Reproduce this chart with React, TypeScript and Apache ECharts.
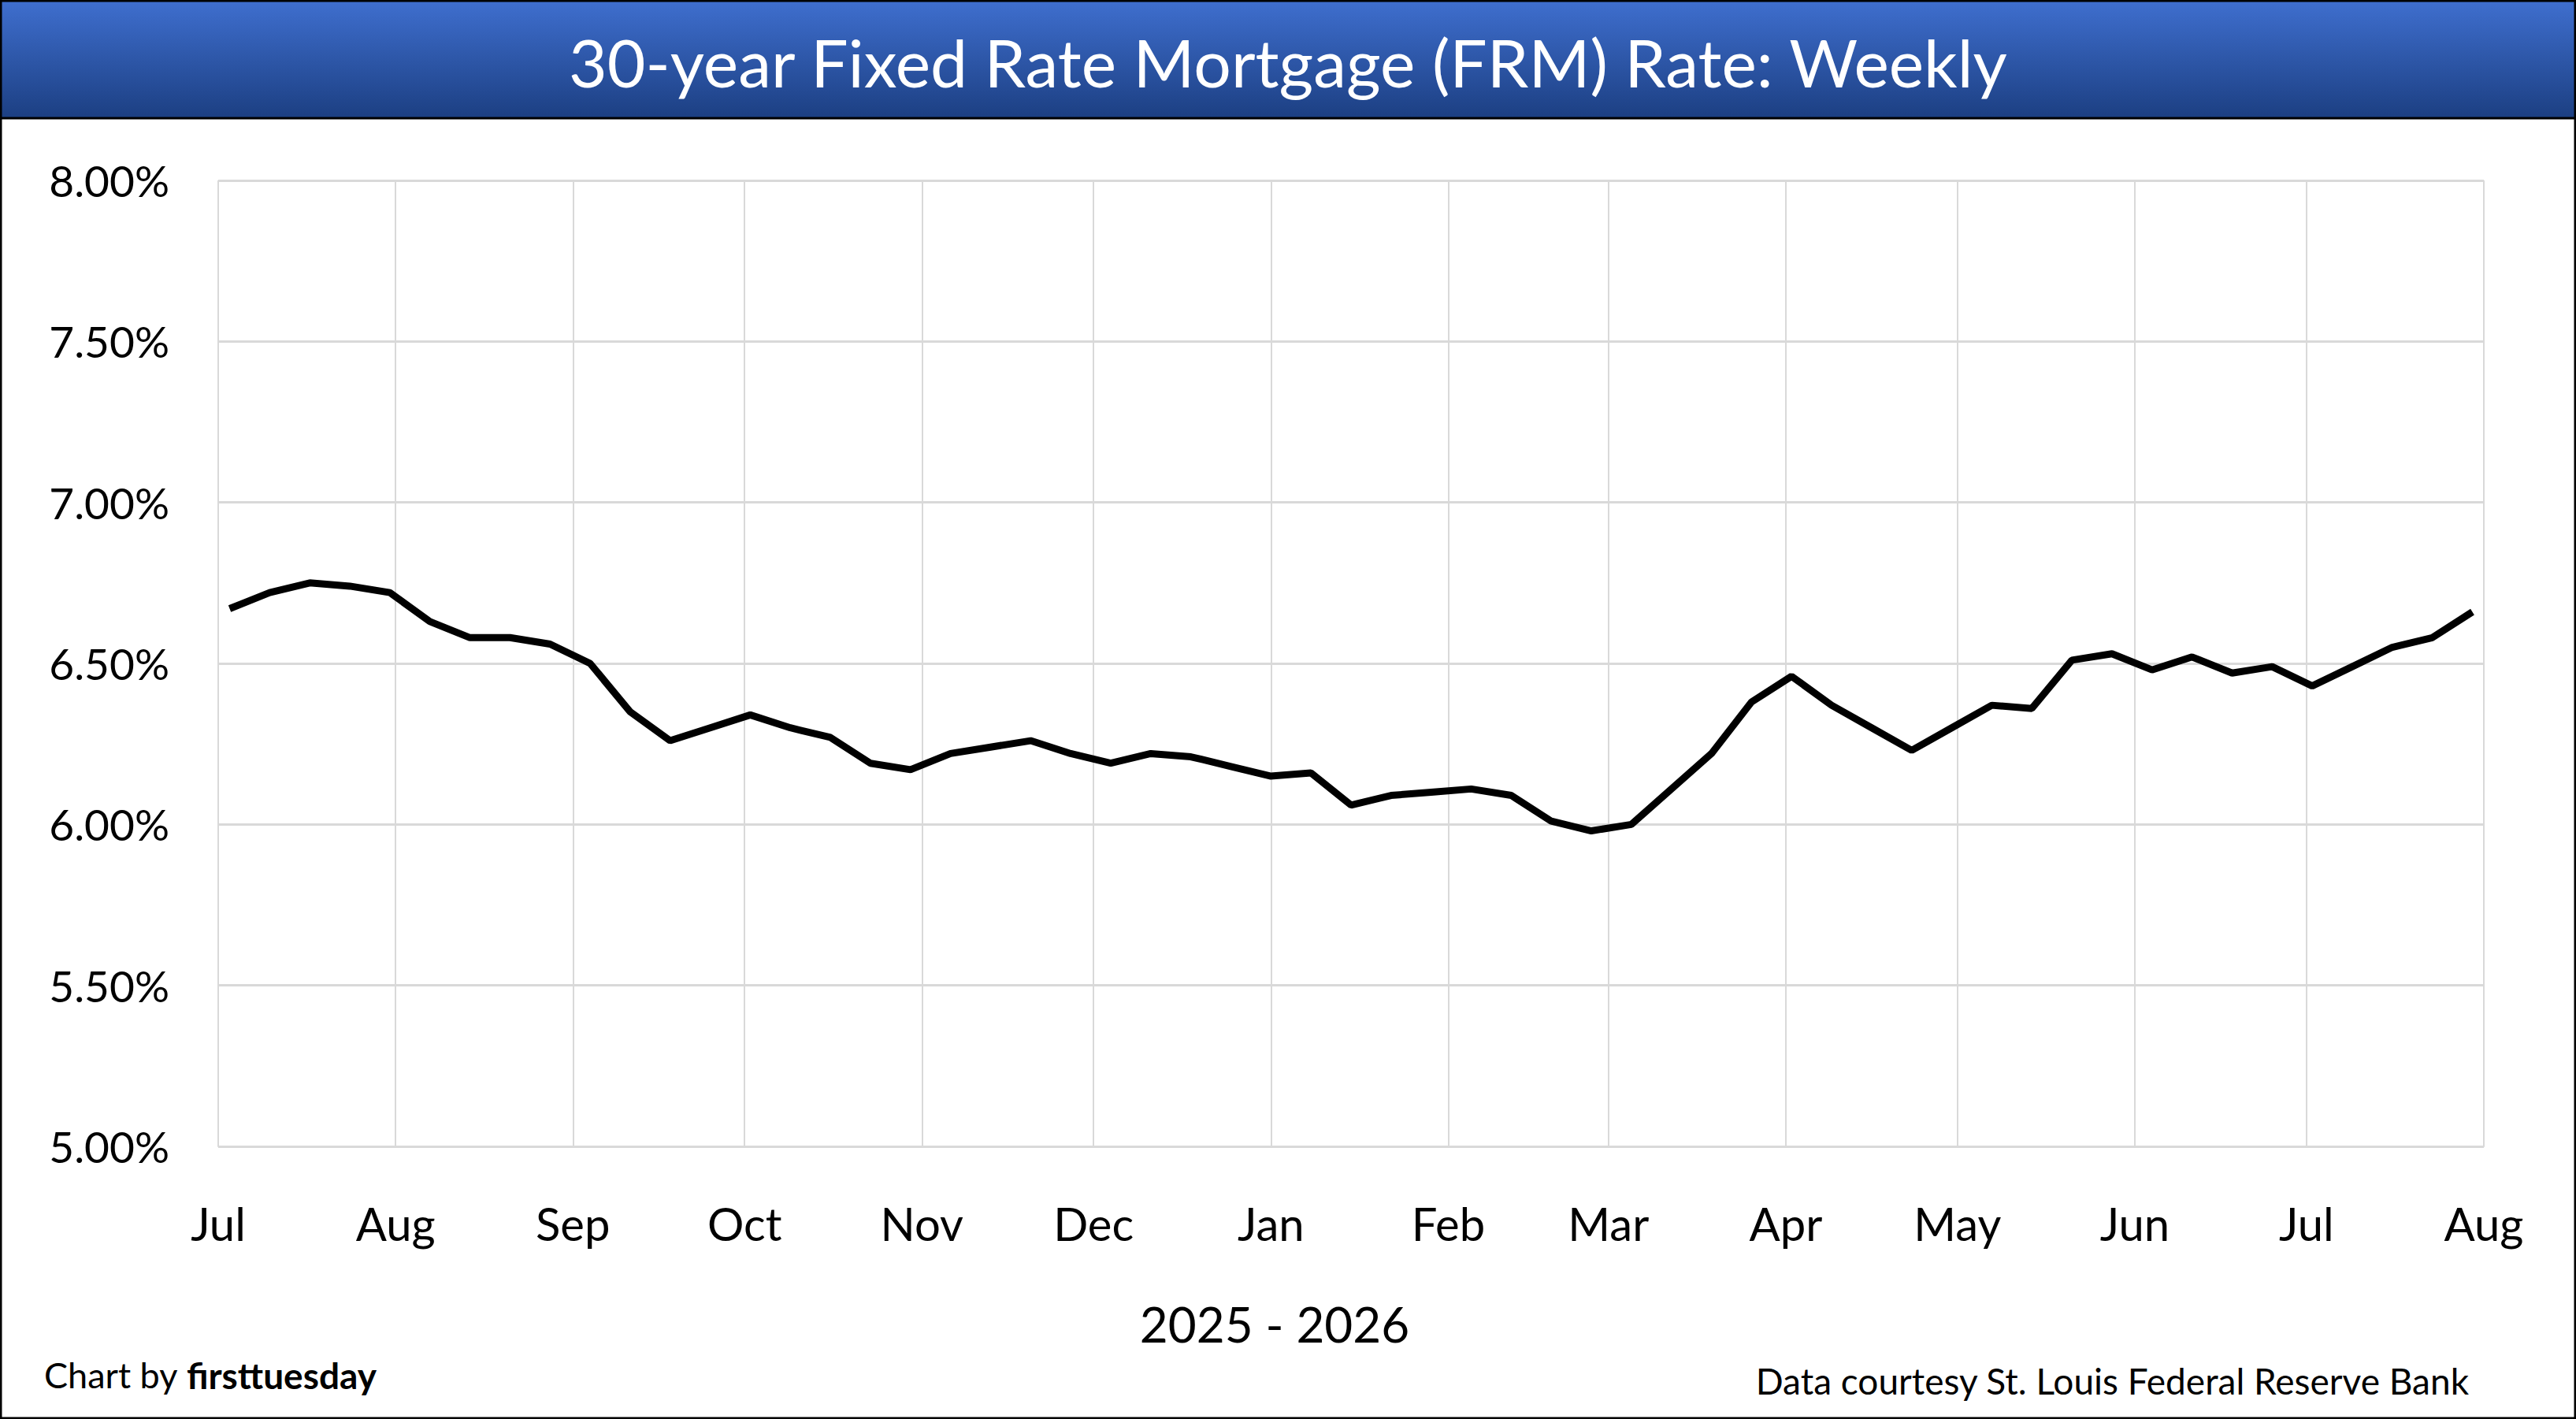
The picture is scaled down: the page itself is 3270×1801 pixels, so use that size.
import { useEffect, useRef } from "react";
import * as echarts from "echarts";

// weekly 30-year FRM rate, Thursdays from Jul 3 2025
const startDate = "2025-07-03";
const rates = [
    6.67, 6.72, 6.75, 6.74, 6.72, 6.63, 6.58, 6.58, 6.56, 6.50,
    6.35, 6.26, 6.30, 6.34, 6.30, 6.27, 6.19, 6.17, 6.22, 6.24,
    6.26, 6.22, 6.19, 6.22, 6.21, 6.18, 6.15, 6.16, 6.06, 6.09,
    6.10, 6.11, 6.09, 6.01, 5.98, 6.00, 6.11, 6.22, 6.38, 6.46,
    6.37, 6.30, 6.23, 6.30, 6.37, 6.36, 6.51, 6.53, 6.48, 6.52,
    6.47, 6.49, 6.43, 6.49, 6.55, 6.58, 6.66,
];
const yTicks = [5.0, 5.5, 6.0, 6.5, 7.0, 7.5, 8.0];
const axisStart = "2025-07-01";
const axisEnd = "2026-08-01";

const W = 3270;
const H = 1801;
const FONT = "Lato";
const DAY = 86400000;

export default function App() {
    const chartRef = useRef<HTMLDivElement>(null);

    useEffect(() => {
        document.body.style.margin = "0";
        if (!chartRef.current) return;
        const chart = echarts.init(chartRef.current, undefined, { renderer: "svg" });
        const t0 = new Date(startDate + "T00:00:00").getTime();
        const data = rates.map((r, i) => [t0 + i * 7 * DAY, r]);

        chart.setOption({
            animation: false,
            backgroundColor: "#fff",
            grid: { left: 277, right: W - 3153, top: 229, bottom: H - 1455 },
            xAxis: {
                type: "time",
                min: new Date(axisStart + "T00:00:00").getTime(),
                max: new Date(axisEnd + "T00:00:00").getTime(),
                minInterval: 28 * DAY,
                maxInterval: 31 * DAY,
                axisLine: { show: true, lineStyle: { color: "#d9d9d9", width: 2 } },
                axisTick: { show: false },
                axisLabel: {
                    formatter: "{MMM}",
                    color: "#000",
                    fontFamily: FONT,
                    fontSize: 58,
                    margin: 68,
                    showMinLabel: true,
                    showMaxLabel: true,
                    hideOverlap: false,
                },
                splitLine: { show: true, lineStyle: { color: "#d9d9d9", width: 2 } },
            },
            yAxis: {
                type: "value",
                min: yTicks[0],
                max: yTicks[yTicks.length - 1],
                interval: 0.5,
                axisLine: { show: false },
                axisTick: { show: false },
                axisLabel: {
                    formatter: (v: number) => v.toFixed(2) + "%",
                    color: "#000",
                    fontFamily: FONT,
                    fontSize: 55,
                    margin: 62,
                },
                splitLine: { lineStyle: { color: "#d9d9d9", width: 3 } },
            },
            series: [
                {
                    type: "line",
                    data,
                    showSymbol: false,
                    lineStyle: { color: "#000", width: 9 },
                },
            ],
            graphic: [
                {
                    type: "rect",
                    shape: { x: 0, y: 0, width: W, height: 150 },
                    style: {
                        fill: new echarts.graphic.LinearGradient(0, 0, 0, 1, [
                            { offset: 0, color: "#3f6fcf" },
                            { offset: 1, color: "#1c3f82" },
                        ]),
                        stroke: "#000",
                        lineWidth: 3,
                    },
                },
                {
                    type: "text",
                    x: 1635,
                    y: 78,
                    style: {
                        text: "30-year Fixed Rate Mortgage (FRM) Rate: Weekly",
                        fill: "#fff",
                        font: `84px ${FONT}`,
                        align: "center",
                        verticalAlign: "middle",
                    },
                },
                {
                    type: "rect",
                    shape: { x: 1, y: 1, width: W - 2, height: H - 2 },
                    style: { fill: "none", stroke: "#000", lineWidth: 3 },
                },
                {
                    type: "text",
                    x: 1618,
                    y: 1680,
                    style: {
                        text: "2025 - 2026",
                        fill: "#000",
                        font: `62px ${FONT}`,
                        align: "center",
                        verticalAlign: "middle",
                    },
                },
                {
                    type: "text",
                    x: 56,
                    y: 1745,
                    style: {
                        text: "Chart by {b|firsttuesday}",
                        fill: "#000",
                        font: `45px ${FONT}`,
                        verticalAlign: "middle",
                        rich: { b: { fontWeight: "bold", fontSize: 46, fontFamily: FONT } },
                    },
                },
                {
                    type: "text",
                    x: 3134,
                    y: 1752,
                    style: {
                        text: "Data courtesy St. Louis Federal Reserve Bank",
                        fill: "#000",
                        font: `46px ${FONT}`,
                        align: "right",
                        verticalAlign: "middle",
                    },
                },
            ],
        });

        return () => chart.dispose();
    }, []);

    return <div ref={chartRef} style={{ width: W, height: H }} />;
}
